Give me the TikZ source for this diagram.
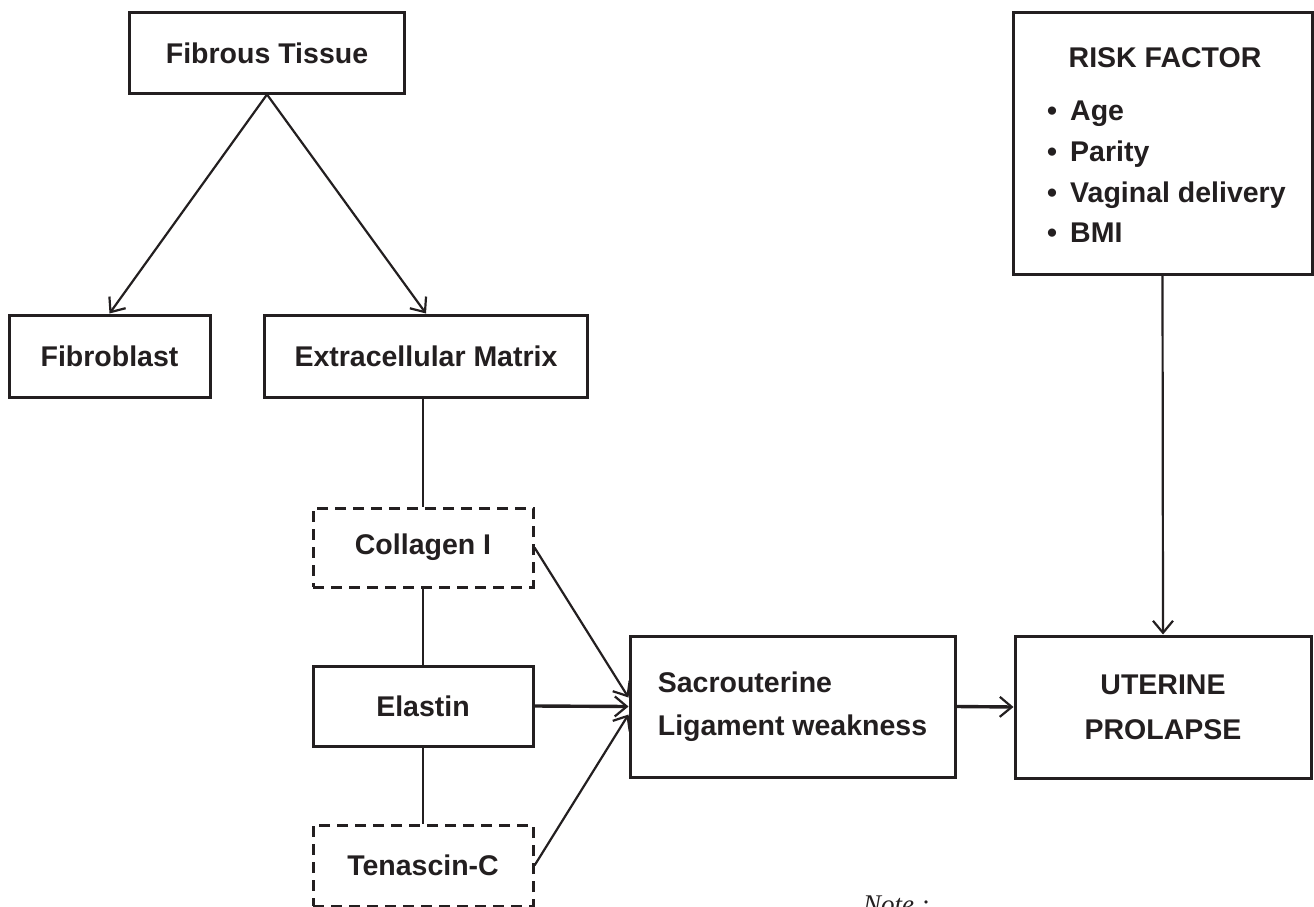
\documentclass[tikz,border=0pt]{standalone}
\usepackage{fontspec}
\setmainfont{Liberation Sans}
\newfontfamily\notafont{Liberation Serif}
\usetikzlibrary{arrows.meta,positioning,calc}
\definecolor{Tinta}{RGB}{35,31,32}
\tikzset{
  cajabox/.style={draw=Tinta, line width=3pt, fill=white, align=center, text=Tinta,
    minimum width=#1, font=\fontsize{28.5}{45}\selectfont\bfseries, inner sep=0pt},
  cajabox/.default=220pt,
  trazobox/.style={cajabox=#1, dash pattern=on 11pt off 7pt},
  trazobox/.default=220pt,
  flecha/.style={-{Straight Barb[length=12pt, width=20pt, line width=2.2pt]}, line width=2.2pt, Tinta},
  flechagruesa/.style={flecha, line width=3.4pt},
  enlace/.style={line width=2.2pt, Tinta},
  itemtxt/.style={anchor=base west, text=Tinta, font=\fontsize{28.5}{45}\selectfont\bfseries, inner sep=0pt},
}
\begin{document}
\begin{tikzpicture}[x=1pt, y=-1pt]
    \useasboundingbox (0,0) rectangle (1314,907);

    % rama izquierda
    \node[cajabox=275pt, minimum height=80pt] (fibrous) at (267,53) {Fibrous Tissue};
    \node[cajabox=201pt, minimum height=82pt] (fibroblast) at (109.5,356) {Fibroblast};
    \node[cajabox=323pt, minimum height=82pt] (ecm) at (426,356) {Extracellular Matrix};
    \draw[flecha] (fibrous.south) -- (fibroblast.north);
    \draw[flecha] (fibrous.south) -- (ecm.north);

    \node[trazobox, minimum height=79pt] (collagen) at (423,547.5) {Collagen I};
    \node[cajabox, minimum height=80pt] (elastin) at (423,706) {Elastin};
    \node[trazobox, minimum height=81pt] (tenascin) at (423,865.5) {Tenascin-C};
    \draw[enlace] (collagen.north |- ecm.south) -- (collagen.north);
    \draw[enlace] (collagen.south) -- (elastin.north);
    \draw[enlace] (elastin.south) -- (tenascin.north);

    % debilidad y prolapso
    \node[cajabox=325pt, minimum height=141pt, align=left,
      font=\fontsize{28.5}{43}\selectfont\bfseries] (sacro) at (792.5,706.5)
      {Sacrouterine\\ Ligament weakness};
    \node[cajabox=296pt, minimum height=142pt] (uterine) at (1163,707) {UTERINE\\ PROLAPSE};
    \draw[flecha] (collagen.east) -- ([yshift=9pt]sacro.west);
    \draw[flechagruesa] (elastin.east) -- (sacro.west);
    \draw[flecha] (tenascin.east) -- ([yshift=-8pt]sacro.west);
    \draw[flechagruesa] (sacro.east) -- (uterine.west);

    % factores de riesgo
    \node[cajabox=299pt, minimum height=261pt] (risk) at (1162.5,143.5) {};
    \node[itemtxt, anchor=base] (risktitle) at (1165,67) {RISK FACTOR};
    \foreach \texto/\yy [count=\i] in {Age/120, Parity/161, Vaginal delivery/202, BMI/242}
      \node[itemtxt] (risk\i) at (1047,\yy) {\makebox[23pt][l]{\textbullet}\texto};
    \draw[flecha] (risk.south) -- (uterine.north);

    \node[anchor=base west, inner sep=0pt, text=Tinta, font=\fontsize{27}{30}\notafont\itshape]
      (nota) at (863,913) {Note :};
\end{tikzpicture}
\end{document}
